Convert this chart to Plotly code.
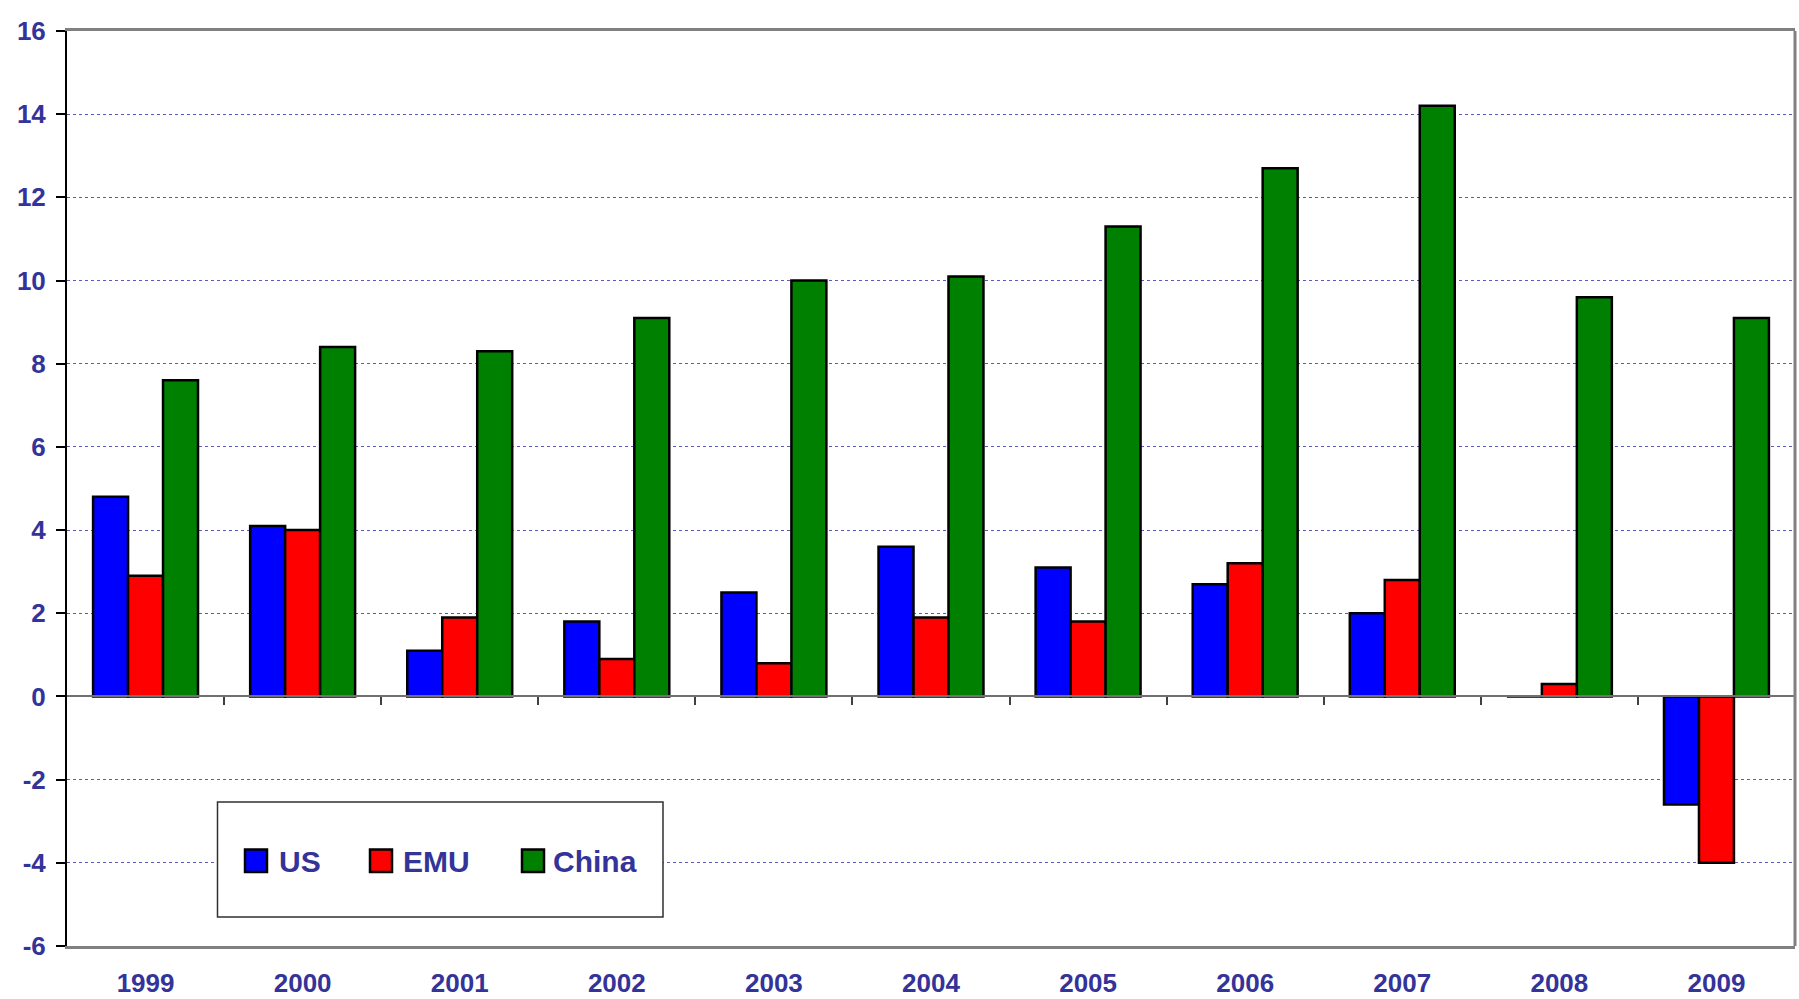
import plotly.graph_objects as go

# Real GDP growth, % per year
years = ["1999", "2000", "2001", "2002", "2003", "2004", "2005", "2006", "2007", "2008", "2009"]
series_names = ["US", "EMU", "China"]
us = [4.8, 4.1, 1.1, 1.8, 2.5, 3.6, 3.1, 2.7, 2.0, 0.0, -2.6]
emu = [2.9, 4.0, 1.9, 0.9, 0.8, 1.9, 1.8, 3.2, 2.8, 0.3, -4.0]
china = [7.6, 8.4, 8.3, 9.1, 10.0, 10.1, 11.3, 12.7, 14.2, 9.6, 9.1]
y_ticks = [-6, -4, -2, 0, 2, 4, 6, 8, 10, 12, 14, 16]

colors = ["#0000FF", "#FF0000", "#008000"]
text_color = "#333399"
font_family = "Liberation Sans, Arial, sans-serif"

W, H = 1799, 999
ML, MR, MT, MB = 67, 4, 31, 53
Y_MIN, Y_MAX = -6, 16

xpos = list(range(len(years)))

fig = go.Figure()
for name, vals, col in zip(series_names, [us, emu, china], colors):
    fig.add_trace(go.Bar(
        x=xpos, y=vals, name=name,
        marker=dict(color=col, line=dict(color="black", width=2.5)),
        showlegend=False,
    ))

# helper trace so the zero-line axis is rendered
fig.add_trace(go.Scatter(x=[None], y=[None], xaxis="x2", showlegend=False, hoverinfo="skip"))

zero_pos = (0 - Y_MIN) / (Y_MAX - Y_MIN)

fig.update_layout(
    width=W, height=H,
    margin=dict(l=ML, r=MR, t=MT, b=MB),
    paper_bgcolor="white", plot_bgcolor="white",
    barmode="group", bargap=0.332, bargroupgap=0,
    font=dict(family=font_family, color=text_color),
    xaxis=dict(
        range=[-0.5, len(years) - 0.5],
        tickvals=xpos, ticktext=years,
        tickfont=dict(size=26, family=font_family, color=text_color, weight="bold"),
        ticks="", showgrid=False, zeroline=False,
        showline=True, linecolor="#808080", linewidth=3, mirror=True,
        ticklabelstandoff=12, automargin=False,
    ),
    xaxis2=dict(
        overlaying="x", anchor="free", position=zero_pos,
        range=[-0.5, len(years) - 0.5],
        tickvals=[i + 0.5 for i in xpos],
        ticks="outside", ticklen=8, tickwidth=1.5, tickcolor="#404040",
        showticklabels=False, showgrid=False, zeroline=False,
        showline=True, linecolor="#707070", linewidth=2,
    ),
    yaxis=dict(
        range=[Y_MIN, Y_MAX],
        tickvals=y_ticks, ticktext=[str(v) for v in y_ticks],
        tickfont=dict(size=26, family=font_family, color=text_color, weight="bold"),
        ticks="outside", ticklen=9, tickwidth=1.5, tickcolor="black",
        showline=True, linecolor="black", linewidth=2,
        showgrid=True, gridcolor="rgb(90,90,190)", gridwidth=1, griddash="dot",
        zeroline=False, ticklabelstandoff=5, automargin=False,
    ),
)

# right-hand frame edge
fig.add_shape(type="line", xref="paper", yref="paper", x0=1, x1=1, y0=0, y1=1,
              line=dict(color="#808080", width=3))

# legend drawn as a boxed row of swatches
pw, ph = W - ML - MR, H - MT - MB


def px(x):
    return (x - ML) / pw


def py(y):
    return (H - MB - y) / ph


fig.add_shape(type="rect", xref="paper", yref="paper",
              x0=px(217.5), x1=px(663), y0=py(917), y1=py(802),
              line=dict(color="#303030", width=1.5), fillcolor="white", layer="above")

swatch_x = [245, 370, 522]
label_x = [277, 401, 551]
for name, col, sx, lx in zip(series_names, colors, swatch_x, label_x):
    fig.add_shape(type="rect", xref="paper", yref="paper",
                  x0=px(sx), x1=px(sx + 22), y0=py(872), y1=py(849.5),
                  line=dict(color="black", width=2.5), fillcolor=col, layer="above")
    fig.add_annotation(xref="paper", yref="paper", x=px(lx), y=py(861),
                       xanchor="left", yanchor="middle", showarrow=False,
                       text=f"<b>{name}</b>",
                       font=dict(size=30, family=font_family, color=text_color))

fig.write_html("out.html")
